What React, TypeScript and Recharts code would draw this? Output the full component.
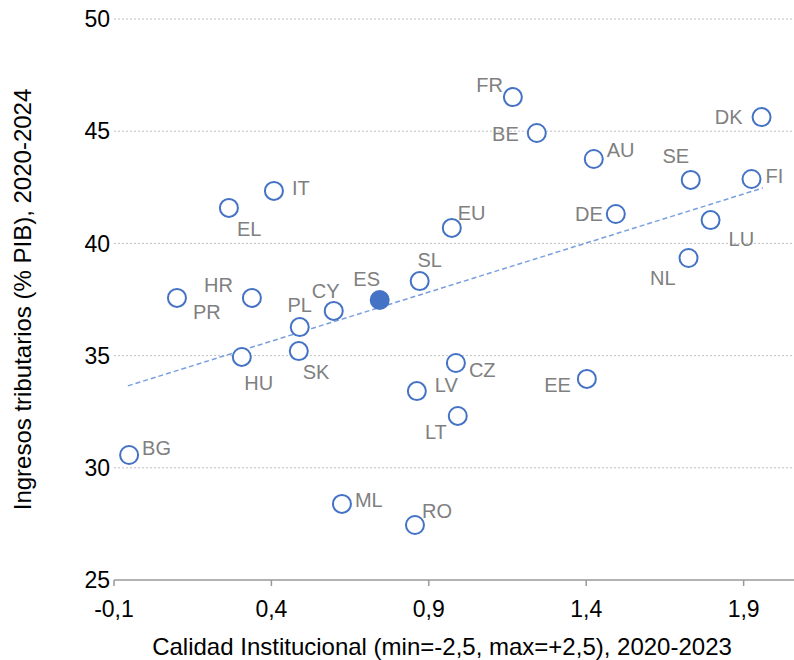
import {
  CartesianGrid,
  ReferenceLine,
  Scatter,
  ScatterChart,
  XAxis,
  YAxis,
} from "recharts";

const COUNTRIES = [
  "FR", "BE", "DK", "AU", "SE", "FI", "DE", "LU", "NL", "EU", "SL", "IT", "EL", "HR",
  "PR", "PL", "CY", "ES", "HU", "SK", "BG", "ML", "CZ", "LV", "LT", "EE", "RO",
];
// Calidad institucional (min=-2,5, max=+2,5), 2020-2023
const CALIDAD = [
  1.167, 1.243, 1.957, 1.424, 1.732, 1.925, 1.494, 1.795, 1.725, 0.973, 0.871, 0.408, 0.265, 0.338,
  0.1, 0.49, 0.598, 0.744, 0.306, 0.487, -0.052, 0.624, 0.986, 0.862, 0.992, 1.402, 0.856,
];
// Ingresos tributarios (% PIB), 2020-2024
const INGRESOS = [
  46.52, 44.92, 45.63, 43.76, 42.83, 42.87, 41.31, 41.04, 39.35, 40.69, 38.32, 42.34, 41.58, 37.57,
  37.57, 36.27, 36.99, 37.48, 34.94, 35.2, 30.57, 28.39, 34.67, 33.42, 32.31, 33.96, 27.45,
];
const HIGHLIGHT = "ES";

const X_TICKS = [-0.1, 0.4, 0.9, 1.4, 1.9];
const Y_TICKS = [25, 30, 35, 40, 45, 50];

// tendencia lineal (extremos)
const TREND_X = [-0.056, 1.961];
const TREND_Y = [33.65, 42.47];

// label placement: [dx, dy, anchor]
const LABEL_POS: Record<string, [number, number, "start" | "middle" | "end"]> = {
  FR: [-10, -12, "end"],
  BE: [-18, 1, "end"],
  DK: [-19, 0, "end"],
  AU: [13, -9, "start"],
  SE: [-15, -24, "middle"],
  FI: [14, -3, "start"],
  DE: [-13, 0, "end"],
  LU: [18, 19, "start"],
  NL: [-13, 20, "end"],
  EU: [6, -15, "start"],
  SL: [10, -21, "middle"],
  IT: [18, -3, "start"],
  EL: [8, 21, "start"],
  HR: [-19, -13, "end"],
  PR: [16, 14, "start"],
  PL: [0, -22, "middle"],
  CY: [-8, -20, "middle"],
  ES: [-13, -21, "middle"],
  HU: [17, 26, "middle"],
  SK: [4, 21, "start"],
  BG: [13, -7, "start"],
  ML: [13, -4, "start"],
  CZ: [13, 7, "start"],
  LV: [18, -6, "start"],
  LT: [-11, 16, "end"],
  EE: [-16, 6, "end"],
  RO: [7, -14, "start"],
};

const BLUE = "#4472C4";
const FONT = "'Liberation Sans', Arial, sans-serif";

const points = COUNTRIES.map((name, i) => ({ name, x: CALIDAD[i], y: INGRESOS[i] }));

const fmt = (v: number) => v.toFixed(1).replace(".", ",");

function CountryDot(props: any) {
  const { cx, cy, payload } = props;
  const [dx, dy, anchor] = LABEL_POS[payload.name] ?? [12, 0, "start"];
  const filled = payload.name === HIGHLIGHT;
  return (
    <g>
      <circle
        cx={cx}
        cy={cy}
        r={filled ? 10 : 9}
        fill={filled ? BLUE : "#fff"}
        stroke={BLUE}
        strokeWidth={filled ? 0 : 2}
      />
      <text
        x={cx + dx}
        y={cy + dy}
        textAnchor={anchor}
        dominantBaseline="central"
        fontSize={20}
        fontFamily={FONT}
        fill="#808080"
      >
        {payload.name}
      </text>
    </g>
  );
}

export default function App() {
  return (
    <div style={{ position: "absolute", left: 0, top: 0, fontFamily: FONT }}>
      <ScatterChart width={794} height={660} margin={{ top: 19, right: 0, bottom: 0, left: 0 }}>
        <CartesianGrid
          vertical={false}
          stroke="#bfbfbf"
          strokeDasharray="2 2"
          horizontalValues={[30, 35, 40, 45, 50]}
        />
        <XAxis
          type="number"
          dataKey="x"
          domain={[-0.1, 2.06]}
          ticks={X_TICKS}
          allowDataOverflow
          tickFormatter={fmt}
          height={80}
          stroke="#999"
          strokeWidth={1.5}
          tickSize={6}
          tickMargin={15}
          tick={{ fill: "#000", fontSize: 23, fontFamily: FONT }}
          label={{
            value: "Calidad Institucional (min=-2,5, max=+2,5), 2020-2023",
            position: "insideBottom",
            offset: 5,
            dx: -12,
            fontSize: 24,
            fill: "#000",
            fontFamily: FONT,
          }}
        />
        <YAxis
          type="number"
          dataKey="y"
          domain={[25, 50]}
          ticks={Y_TICKS}
          width={114}
          axisLine={false}
          tickLine={false}
          tickSize={0}
          tickMargin={4}
          tick={{ fill: "#000", fontSize: 23, fontFamily: FONT }}
          label={{
            content: ({ viewBox }: any) => {
              const cx = viewBox.x + 22;
              const cy = viewBox.y + viewBox.height / 2;
              return (
                <text
                  x={cx}
                  y={cy}
                  transform={`rotate(-90, ${cx}, ${cy})`}
                  textAnchor="middle"
                  dominantBaseline="central"
                  fontSize={24}
                  fontFamily={FONT}
                  fill="#000"
                >
                  Ingresos tributarios (% PIB), 2020-2024
                </text>
              );
            },
          }}
        />
        <ReferenceLine
          segment={[
            { x: TREND_X[0], y: TREND_Y[0] },
            { x: TREND_X[1], y: TREND_Y[1] },
          ]}
          stroke="#7a9fe0"
          strokeWidth={1.5}
          strokeDasharray="5 3"
        />
        <Scatter data={points} shape={<CountryDot />} isAnimationActive={false} />
      </ScatterChart>
    </div>
  );
}
